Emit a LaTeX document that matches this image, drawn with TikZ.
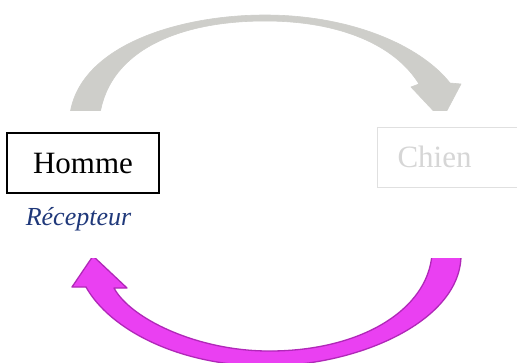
\documentclass[tikz,border=0pt]{standalone}
\usepackage{fontspec}
\setmainfont{Liberation Serif}
\definecolor{bandgray}{RGB}{206,206,202}
\definecolor{bandpink}{RGB}{234,64,242}
\definecolor{bandedge}{RGB}{176,40,184}
\definecolor{faintline}{RGB}{224,224,224}
\definecolor{fainttext}{RGB}{214,214,214}
\definecolor{rolenavy}{RGB}{31,56,122}
\tikzset{
  personbox/.style={draw=black, line width=1.1pt, minimum width=152pt, minimum height=60pt,
    inner sep=0pt, font=\fontsize{31}{36}\selectfont},
  animalbox/.style={draw=faintline, line width=1pt, minimum height=60pt, text width=120pt,
    align=left, inner xsep=20pt, inner ysep=0pt, text=fainttext, font=\fontsize{31}{36}\selectfont},
  rolelabel/.style={text=rolenavy, inner sep=0pt, font=\fontsize{26}{30}\selectfont\itshape},
  greyband/.style={fill=bandgray, draw=bandgray, line width=0.6pt, line join=round},
  pinkband/.style={fill=bandpink, draw=bandedge, line width=1.3pt, line join=round}
}
\begin{document}
\begin{tikzpicture}[x=1pt,y=-1pt]
  \clip (0,0) rectangle (517,362);
  \fill[white] (0,0) rectangle (517,362);

  % upper curved arrow (grey), thin at the crown, cut flat at its lower edge
  \begin{scope}
    \clip (0,0) rectangle (517,110);
    \draw[greyband]
      (70,114) .. controls (80,45) and (180,15) .. (265,15)
      .. controls (350,15) and (420,45) .. (450,83)
      -- (461,84) -- (442,120) -- (411,87) -- (419,84)
      .. controls (395,45) and (340,21) .. (265,21)
      .. controls (180,21) and (110,50) .. (100,114) -- cycle;
  \end{scope}

  % lower curved arrow (magenta), pointing back up to the left
  \begin{scope}
    \clip (0,258) rectangle (517,362);
    \draw[pinkband]
      (461,254) .. controls (462,320) and (360,366) .. (266,366)
      .. controls (180,366) and (110,330) .. (86,287)
      -- (72,287) -- (93,256) -- (127,288) -- (114,288)
      .. controls (130,318) and (195,350) .. (266,351)
      .. controls (360,352) and (428,310) .. (432,254) -- cycle;
  \end{scope}

  % participants
  \node[personbox] (homme) at (83,163) {Homme};
  \node[animalbox, anchor=west] (chien) at (377,157) {Chien};
  \node[rolelabel, anchor=base] (recepteur) at (78.5,225) {Récepteur};
\end{tikzpicture}
\end{document}
